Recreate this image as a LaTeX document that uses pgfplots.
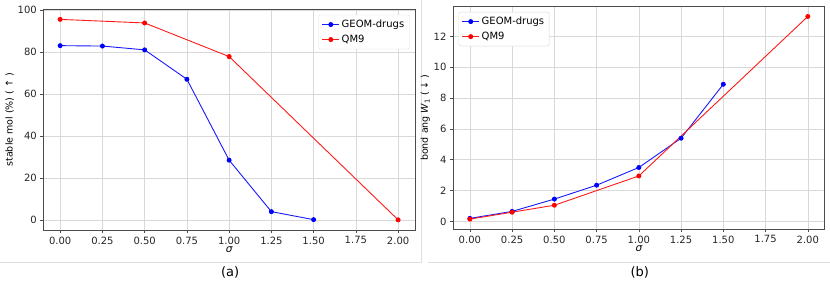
\documentclass[border=0pt]{standalone}
\usepackage{pgfplots}
\pgfplotsset{compat=1.18}
\usepackage{fontspec}
\setmainfont{DejaVu Sans}
\definecolor{gridc}{gray}{0.85}
\definecolor{spine}{gray}{0.3}
\pgfplotsset{
  mystyle/.style={
    scale only axis,
    width=372pt,
    anchor=south west,
    xmin=-0.1, xmax=2.1,
    xtick={0,0.25,0.5,0.75,1,1.25,1.5,1.75,2},
    xticklabel style={/pgf/number format/.cd,fixed,fixed zerofill,precision=2},
    /pgf/number format/assume math mode=true,
    tick label style={font=\fontsize{10}{11}\selectfont, color=black!85},
    label style={font=\fontsize{9.5}{11}\selectfont},
    grid=major,
    major grid style={gridc, line width=0.6pt},
    axis line style={spine, line width=0.6pt},
    tick style={spine, line width=0.6pt},
    tick align=outside,
    major tick length=3pt,
    xtick pos=bottom, ytick pos=left,
    xlabel={\itshape σ},
    xlabel style={yshift=4pt, font=\fontsize{10.5}{11}\selectfont},
    legend style={font=\fontsize{10}{11}\selectfont, draw=gridc, rounded corners=2pt, row sep=2pt, inner sep=3pt},
    legend image post style={},
    legend cell align=left,
    every axis plot/.append style={line width=0.9pt, mark=*, mark size=2pt},
  }
}
\begin{document}
\begin{tikzpicture}
\path (0pt,0pt) rectangle (830pt,280pt);
\draw[gray!25, line width=0.6pt] (0pt,18pt) -- (422pt,18pt);
\draw[gray!25, line width=0.6pt] (428pt,18pt) -- (830pt,18pt);
\draw[gray!25, line width=0.6pt] (421pt,280pt) -- (421pt,18pt);
\begin{axis}[mystyle, at={(43pt,50pt)}, height=221pt,
  ymin=-4.8, ymax=100.3, ytick={0,20,40,60,80,100},
  ylabel={stable mol (\%) ( ↑ )}, ylabel style={yshift=-3pt},
  legend style={at={(0.985,0.975)}, anchor=north east}]
\addplot[blue!90!white, mark options={fill=blue, draw=blue}] coordinates {
(0,83.0) (0.25,82.8) (0.5,81.0) (0.75,67.0) (1.0,28.5) (1.25,4.0) (1.5,0.2)};
\addlegendentry{GEOM-drugs}
\addplot[red!90!white, mark options={fill=red, draw=red}] coordinates {
(0,95.5) (0.5,93.8) (1.0,77.8) (2.0,0.1)};
\addlegendentry{QM9}
\end{axis}
\begin{axis}[mystyle, at={(453pt,51pt)}, height=223pt,
  ymin=-0.5, ymax=13.96, ytick={0,2,4,6,8,10,12},
  ylabel={bond ang {\itshape W}\textsubscript{1} ( ↓ )}, ylabel style={yshift=-3pt},
  legend style={at={(0.015,0.975)}, anchor=north west}]
\addplot[blue!90!white, mark options={fill=blue, draw=blue}] coordinates {
(0,0.2) (0.25,0.65) (0.5,1.45) (0.75,2.35) (1.0,3.5) (1.25,5.4) (1.5,8.9)};
\addlegendentry{GEOM-drugs}
\addplot[red!90!white, mark options={fill=red, draw=red}] coordinates {
(0,0.15) (0.25,0.6) (0.5,1.05) (1.0,2.95) (2.0,13.3)};
\addlegendentry{QM9}
\end{axis}
\node[font=\fontsize{13}{15}\selectfont] at (230pt,8pt) {(a)};
\node[font=\fontsize{13}{15}\selectfont] at (640pt,8pt) {(b)};
\end{tikzpicture}
\end{document}
